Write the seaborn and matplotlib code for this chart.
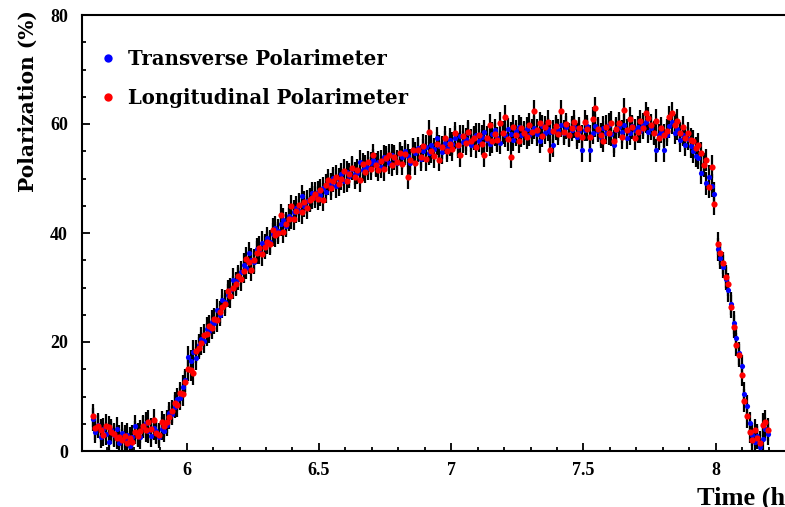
import numpy as np
import pandas as pd
import matplotlib
matplotlib.use("Agg")
import matplotlib.pyplot as plt
import seaborn as sns
from matplotlib.ticker import MultipleLocator, FuncFormatter
from matplotlib.lines import Line2D

# ---- data: polarization (%) per 0.01 h run, both polarimeters ----
run_start = 5.645      # first run of the build-up (h)
flip_start = 8.008     # first run after the 8 h flip (h)
run_step = 0.01        # run length (h)
pol_err = 2.1          # statistical error per run (%)

trans_pol_main = [
    5.8, 3.5, 4.8, 2.6, 4.0, 3.2, 1.7, 3.8, 2.9, 4.1,
    1.4, 3.3, 2.2, 3.0, 0.9, 2.6, 4.5, 3.1, 2.5, 4.4,
    5.1, 3.6, 2.8, 4.2, 3.6, 2.6, 4.1, 3.7,
    4.8, 6.9, 6.8, 8.1, 9.5, 9.7, 11.8, 13.0, 17.2, 16.5,
    18.2, 17.0, 19.4, 20.6, 20.1, 22.4, 22.0, 23.7, 23.5, 25.8,
    25.0, 27.7, 27.4, 28.6, 29.6, 31.4, 30.8, 31.6, 32.8, 34.2,
    33.6, 36.3, 35.1, 34.6, 37.0, 36.5, 38.2, 37.8, 39.0, 38.4,
    39.8, 41.0, 40.4, 41.6, 42.4, 41.3, 43.2, 42.8, 43.9, 44.6,
    44.1, 46.7, 45.0, 45.8, 46.2, 47.3, 46.6, 47.5,
    47.0, 48.2, 47.6, 49.0, 48.9, 50.1, 48.6, 49.9, 50.8, 49.5,
    51.2, 50.4, 51.8, 50.9, 51.0, 53.1, 51.6, 52.3, 51.9, 52.8,
    53.4, 52.6, 53.0, 52.2, 54.0, 53.5, 52.9, 54.3, 53.7, 52.8,
    54.5, 53.9, 55.0, 54.2, 52.8, 55.3, 54.6, 55.6, 53.5, 55.1,
    55.8, 54.6, 56.2, 55.4, 57.4, 55.9, 54.8, 56.6, 55.6, 57.1,
    56.4, 57.5, 55.9, 57.8, 56.7, 57.2, 58.3, 56.1, 57.6, 58.0,
    56.9, 57.7, 58.6, 57.0, 56.3, 58.2, 58.9, 57.4, 56.6, 58.4,
    57.9, 59.0, 58.2, 57.1, 58.7, 59.5, 57.9, 58.5, 59.1, 58.0,
    58.8, 59.3, 58.1, 56.8, 59.6, 58.4, 59.0, 58.6, 56.1, 59.2,
    58.9, 59.8, 58.3, 59.4, 58.0, 58.9, 59.5, 57.6, 58.7, 55.2,
    58.9, 59.6, 55.2, 58.4, 59.7, 58.8, 57.7, 59.3, 58.4, 59.9,
    58.1, 56.1, 58.9, 59.5, 58.6, 59.8, 57.5, 58.3, 59.6, 58.9,
    59.4, 58.7, 59.9, 60.4, 58.6, 59.2, 58.4, 55.2, 57.9, 58.6,
    55.2, 58.0, 59.6, 60.3, 58.4, 59.1, 57.0, 58.0, 56.2, 57.3,
    55.9, 55.0, 54.2, 53.8, 51.0, 52.4, 49.1, 50.3, 48.7, 47.2,
]
trans_pol_tail = [
    37.0, 35.5, 33.8, 31.6, 29.5, 27.0, 23.5, 20.8, 17.9, 15.6,
    10.5, 8.2, 5.1, 3.0, 1.6, 2.8, 0.8, 2.2, 4.1, 3.2,
]

long_pol_main = [
    6.5, 4.2, 4.5, 3.8, 3.0, 4.6, 4.4, 3.4, 3.1, 2.4,
    2.6, 2.0, 2.7, 1.5, 2.3, 1.6, 3.4, 2.8, 3.6, 4.5,
    3.8, 5.4, 4.0, 5.6, 3.3, 3.0, 5.3, 4.6,
    5.4, 6.2, 7.3, 8.8, 8.4, 10.6, 10.4, 12.6, 15.0, 14.9,
    14.3, 18.3, 18.9, 19.8, 21.2, 21.4, 22.9, 22.6, 24.2, 24.0,
    25.5, 26.5, 26.9, 29.3, 28.4, 30.0, 30.6, 32.1, 31.5, 33.0,
    35.3, 34.6, 33.3, 35.0, 36.4, 37.3, 36.1, 37.4, 38.3, 38.0,
    40.6, 39.6, 40.0, 43.3, 40.2, 41.7, 42.5, 44.9, 42.6, 44.0,
    45.2, 43.8, 45.6, 44.6, 46.0, 46.5, 47.2, 46.3,
    47.9, 46.1, 48.8, 49.7, 48.2, 49.6, 50.3, 48.9, 50.0, 51.4,
    49.6, 50.8, 52.0, 50.2, 51.5, 49.7, 52.6, 51.2, 53.0, 51.8,
    54.3, 52.4, 51.6, 53.2, 51.7, 53.8, 54.3, 52.5, 54.0, 53.1,
    54.6, 52.7, 54.5, 50.2, 53.4, 55.3, 52.8, 55.2, 54.0, 56.0,
    53.5, 58.6, 55.0, 54.1, 56.4, 53.4, 55.7, 57.5, 55.1, 56.3,
    55.4, 58.3, 56.2, 54.3, 57.8, 56.5, 58.6, 56.9, 57.4, 55.8,
    58.0, 56.4, 54.3, 57.5, 59.8, 56.8, 58.1, 57.0, 60.1, 58.4,
    61.3, 57.2, 54.0, 59.5, 58.0, 56.8, 59.2, 58.3, 57.6, 59.9,
    58.5, 62.3, 58.9, 60.1, 57.8, 59.4, 60.4, 55.2, 58.7, 59.6,
    58.2, 62.3, 58.6, 60.0, 57.9, 59.3, 60.4, 58.1, 59.2, 57.7,
    60.4, 59.0, 57.7, 61.0, 62.9, 59.1, 58.0, 56.9, 59.5, 58.3,
    60.2, 56.8, 59.1, 60.1, 57.6, 62.6, 58.9, 61.0, 59.4, 57.4,
    58.6, 60.5, 59.3, 62.0, 61.1, 59.8, 58.3, 60.6, 57.4, 59.2,
    57.9, 58.8, 61.2, 62.0, 59.8, 60.6, 58.3, 59.4, 57.4, 58.3,
    57.1, 56.8, 55.6, 56.2, 54.6, 52.5, 53.4, 48.5, 52.2, 45.4,
]
long_pol_tail = [
    38.0, 36.3, 34.5, 32.0, 30.6, 26.5, 22.8, 19.5, 17.6, 14.0,
    9.2, 6.4, 3.5, 2.1, 3.8, 2.4, 1.5, 4.8, 5.4, 3.9,
]

series_names = ["Transverse Polarimeter", "Longitudinal Polarimeter"]
series_colors = ["#0000ff", "#ff0000"]
marker_area = [14, 20]

# ---- assemble a long-form table ----
t_main = run_start + run_step * np.arange(len(long_pol_main))
t_tail = flip_start + run_step * np.arange(len(long_pol_tail))
t_all = np.concatenate([t_main, t_tail])
frames = []
for name, vals in zip(series_names,
                      [trans_pol_main + trans_pol_tail,
                       long_pol_main + long_pol_tail]):
    frames.append(pd.DataFrame({"time": t_all, "pol": vals, "series": name}))
df = pd.concat(frames, ignore_index=True)

# ---- figure ----
sns.set_theme(style="white")
plt.rcParams["font.family"] = ["Liberation Serif", "DejaVu Serif"]
plt.rcParams["font.weight"] = "bold"
for key in ["text.color", "axes.labelcolor", "xtick.color", "ytick.color",
            "axes.edgecolor"]:
    plt.rcParams[key] = "black"

W, H = 785, 507
fig = plt.figure(figsize=(W / 100, H / 100), dpi=100)
ax = fig.add_axes([82 / W, 56 / H, 713 / W, 436 / H])
ax.set_xlim(5.6042, 8.30)
ax.set_ylim(0, 80)

for name, color, area in zip(series_names, series_colors, marker_area):
    sub = df[df["series"] == name]
    ax.vlines(sub["time"], sub["pol"] - pol_err, sub["pol"] + pol_err,
              color="black", linewidth=1.6, zorder=2)
    sns.scatterplot(data=sub, x="time", y="pol", color=color, marker="o",
                    s=area, linewidth=0, ax=ax, zorder=3, legend=False)

ax.set_xlabel("")
ax.set_ylabel("")
for side in ["right", "bottom", "left", "top"]:
    ax.spines[side].set_color("black")
    ax.spines[side].set_linewidth(1.5)
ax.spines["right"].set_visible(False)

ax.xaxis.set_major_locator(MultipleLocator(0.5))
ax.xaxis.set_minor_locator(MultipleLocator(0.1))
ax.yaxis.set_major_locator(MultipleLocator(20))
ax.yaxis.set_minor_locator(MultipleLocator(5))
ax.xaxis.set_major_formatter(FuncFormatter(lambda v, p: f"{v:g}"))
ax.tick_params(which="both", direction="in", top=False, right=False,
               bottom=True, left=True, color="black", labelcolor="black",
               width=1.3)
ax.tick_params(which="major", length=6, labelsize=13)
ax.tick_params(axis="y", which="major", pad=10)
ax.tick_params(axis="x", which="major", pad=8)
ax.tick_params(which="minor", length=3)

fig.text(28 / W, 1 - 10 / H, "Polarization (%)", rotation=90,
         ha="center", va="top", fontsize=14.5, fontweight="bold",
         color="black", family=["DejaVu Serif"])
fig.text(697 / W, 1 - 505 / H, "Time (h)", ha="left", va="baseline",
         fontsize=19, fontweight="bold", color="black")

handles = [Line2D([], [], marker="o", linestyle="", color=c, markersize=6,
                  markeredgewidth=0) for c in series_colors]
leg = ax.legend(handles, series_names, loc="upper left",
                bbox_to_anchor=(100 / W, 1 - 49 / H),
                bbox_transform=fig.transFigure,
                frameon=False, handlelength=0.8, handletextpad=0.6,
                labelspacing=0.96, borderpad=0, borderaxespad=0,
                prop={"family": ["DejaVu Serif"], "weight": "bold",
                      "size": 14.2})
for txt in leg.get_texts():
    txt.set_color("black")

fig.savefig("out.png", dpi=100)
